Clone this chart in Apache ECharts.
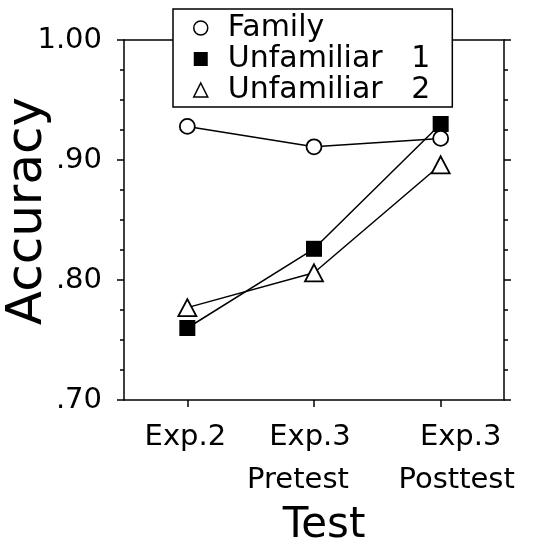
<!DOCTYPE html>
<html>
<head>
<meta charset="utf-8">
<script src="https://cdn.jsdelivr.net/npm/echarts@6/dist/echarts.min.js"></script>
<style>
html,body{margin:0;padding:0;background:#fff;}
#c{width:534px;height:544px;}
</style>
</head>
<body>
<div id="c"></div>
<script>
var categories = ['Exp.2', 'Exp.3\nPretest', 'Exp.3\nPosttest'];
var seriesNames = ['Family', 'Unfamiliar   1', 'Unfamiliar   2'];
var family = [0.928, 0.911, 0.918];
var unfamiliar1 = [0.760, 0.826, 0.930];
var unfamiliar2 = [0.777, 0.806, 0.896];
var yTickValues = [0.70, 0.80, 0.90, 1.00];
var yTickLabels = ['.70', '.80', '.90', '1.00'];

var FONT = 'DejaVu Sans';
var chart = echarts.init(document.getElementById('c'), null, {renderer: 'canvas'});

function yLabel(v) {
  for (var i = 0; i < yTickValues.length; i++) {
    if (Math.abs(v - yTickValues[i]) < 1e-6) return yTickLabels[i];
  }
  return '';
}

// per-line horizontal shifts (left pad, right pad) for each category's label lines
var linePads = [[[0, 4]], [[0, 8], [0, 32]], [[40, 0], [32, 0]]];
var rich = {};
linePads.forEach(function (lines, i) {
  lines.forEach(function (p, j) {
    rich['c' + i + 'l' + j] = {
      fontFamily: FONT, fontSize: 29, color: '#000', lineHeight: 43,
      padding: [0, p[1], 0, p[0]]
    };
  });
});
function xLabel(value, index) {
  var lines = String(value).split('\n');
  return lines.map(function (t, j) { return '{c' + index + 'l' + j + '|' + t + '}'; }).join('\n');
}

var option = {
  animation: false,
  backgroundColor: '#fff',
  grid: {left: 124, right: 30, top: 40, bottom: 144, containLabel: false, outerBoundsMode: 'none'},
  legend: {
    orient: 'vertical',
    left: 173,
    top: 9,
    backgroundColor: '#fff',
    borderColor: '#000',
    borderWidth: 1.5,
    borderRadius: 0,
    padding: [4, 22, 2, 20],
    itemGap: 1,
    itemWidth: 14,
    itemHeight: 14,
    z: 20,
    textStyle: {fontFamily: FONT, fontSize: 30, color: '#000', lineHeight: 30, padding: [0, 0, 0, 15]},
    data: [
      {name: seriesNames[0], icon: 'circle', itemStyle: {color: '#fff', borderColor: '#000', borderWidth: 1.5}},
      {name: seriesNames[1], icon: 'rect', itemStyle: {color: '#000', borderColor: '#000', borderWidth: 0}},
      {name: seriesNames[2], icon: 'triangle', itemStyle: {color: '#fff', borderColor: '#000', borderWidth: 1.5}}
    ]
  },
  xAxis: [
    {
      type: 'category',
      position: 'bottom',
      data: categories,
      boundaryGap: true,
      axisLine: {show: true, lineStyle: {color: '#000', width: 1.5}},
      axisTick: {show: true, alignWithLabel: true, inside: false, length: 7, lineStyle: {color: '#000', width: 1.5}},
      axisLabel: {fontFamily: FONT, fontSize: 29, color: '#000', margin: 16, lineHeight: 43, interval: 0,
                  formatter: xLabel, rich: rich, hideOverlap: false},
      splitLine: {show: false},
      name: 'Test',
      nameLocation: 'middle',
      nameGap: 105,
      nameMoveOverlap: false,
      nameTextStyle: {fontFamily: FONT, fontSize: 42, color: '#000', padding: [0, 0, 0, 20]}
    },
    {
      type: 'category',
      position: 'top',
      data: categories,
      axisLine: {show: true, lineStyle: {color: '#000', width: 1.5}},
      axisTick: {show: false},
      axisLabel: {show: false},
      splitLine: {show: false}
    }
  ],
  yAxis: [
    {
      type: 'value',
      position: 'left',
      min: 0.7,
      max: 1.0,
      interval: 0.1,
      axisLine: {show: true, lineStyle: {color: '#000', width: 1.5}},
      axisTick: {show: true, inside: false, length: 7, lineStyle: {color: '#000', width: 1.5}},
      minorTick: {show: true, splitNumber: 4, length: 4, lineStyle: {color: '#000', width: 1.5}},
      axisLabel: {fontFamily: FONT, fontSize: 29, color: '#000', margin: 22, formatter: yLabel},
      splitLine: {show: false},
      name: 'Accuracy',
      nameLocation: 'middle',
      nameGap: 71,
      nameRotate: 90,
      nameMoveOverlap: false,
      nameTextStyle: {fontFamily: FONT, fontSize: 50, color: '#000', padding: [0, 0, 0, 18]}
    },
    {
      type: 'value',
      position: 'right',
      min: 0.7,
      max: 1.0,
      interval: 0.1,
      axisLine: {show: true, lineStyle: {color: '#000', width: 1.5}},
      axisTick: {show: true, inside: false, length: 7, lineStyle: {color: '#000', width: 1.5}},
      minorTick: {show: true, splitNumber: 4, length: 4, lineStyle: {color: '#000', width: 1.5}},
      axisLabel: {show: false},
      splitLine: {show: false}
    }
  ],
  series: [
    {
      name: seriesNames[1],
      type: 'line',
      data: unfamiliar1,
      symbol: 'rect',
      symbolSize: 16,
      z: 2,
      lineStyle: {color: '#000', width: 1.5},
      itemStyle: {color: '#000', borderColor: '#000', borderWidth: 0}
    },
    {
      name: seriesNames[2],
      type: 'line',
      data: unfamiliar2,
      symbol: 'triangle',
      symbolSize: [18, 17],
      z: 3,
      lineStyle: {color: '#000', width: 1.5},
      itemStyle: {color: '#fff', borderColor: '#000', borderWidth: 1.8}
    },
    {
      name: seriesNames[0],
      type: 'line',
      data: family,
      symbol: 'circle',
      symbolSize: 15,
      z: 4,
      lineStyle: {color: '#000', width: 1.5},
      itemStyle: {color: '#fff', borderColor: '#000', borderWidth: 1.8}
    }
  ]
};
chart.setOption(option);
</script>
</body>
</html>
